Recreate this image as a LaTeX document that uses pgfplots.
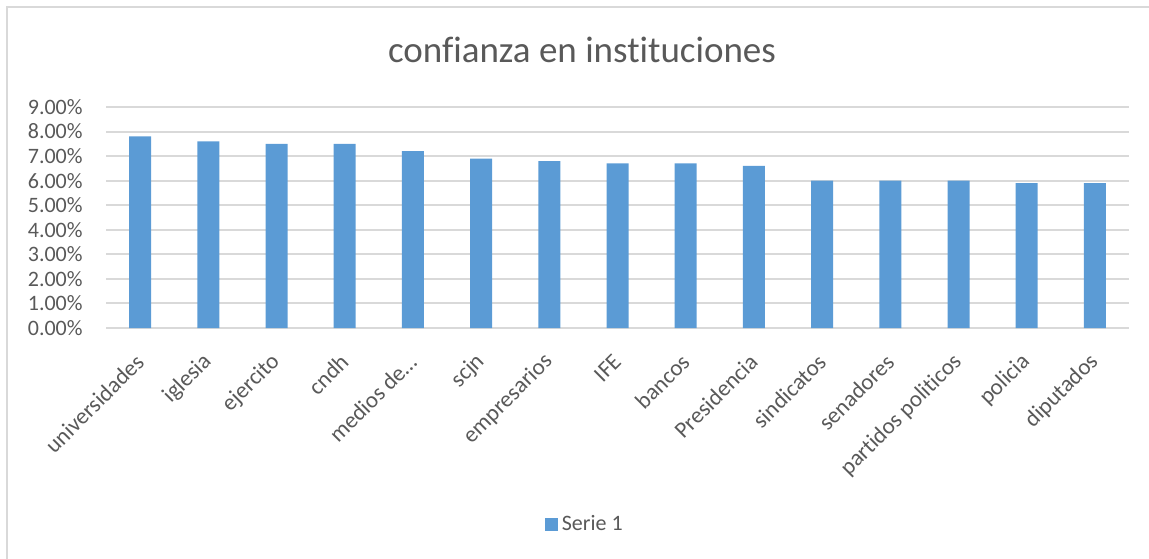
\documentclass[border=0pt]{standalone}
\usepackage{fontspec}
\setmainfont{Carlito}[Ligatures=NoCommon]
\usepackage{pgfplots}
\pgfplotsset{compat=1.18}
\definecolor{barblue}{HTML}{5B9BD5}
\definecolor{gridgray}{HTML}{D9D9D9}
\definecolor{textgray}{HTML}{595959}
\begin{document}
\begin{tikzpicture}
\useasboundingbox (0,0) rectangle (574.5pt,279pt);
\draw[gridgray, line width=1pt] (3.25pt,-10pt) -- (3.25pt,275.25pt) -- (600pt,275.25pt);
\node[font=\fontsize{18.5}{22}\selectfont, text=textgray] at (291pt,254pt) {confianza en instituciones};
\begin{axis}[
  at={(53pt,115pt)}, anchor=south west,
  scale only axis, width=511.5pt, height=110.5pt,
  xmin=-0.5, xmax=14.5, ymin=0, ymax=9,
  axis line style={draw=none},
  major tick length=0pt,
  ymajorgrids, grid style={gridgray, line width=1pt},
  ytick={0,1,2,3,4,5,6,7,8,9},
  yticklabels={0.00\%,1.00\%,2.00\%,3.00\%,4.00\%,5.00\%,6.00\%,7.00\%,8.00\%,9.00\%},
  yticklabel style={font=\fontsize{11}{13}\selectfont, text=textgray, inner sep=0pt, xshift=-11.5pt},
  xtick={0,...,14},
  xticklabels={universidades,iglesia,ejercito,cndh,medios de\dots,scjn,empresarios,IFE,bancos,Presidencia,sindicatos,senadores,partidos politicos,policia,diputados},
  xticklabel style={font=\fontsize{11.5}{13}\selectfont, text=textgray, inner sep=0pt, xshift=0pt, yshift=-15pt, rotate=45, anchor=east},
  ybar, bar width=11pt, bar shift=0pt,
  legend style={at={(0.469,-0.887)}, anchor=center, draw=none, fill=none, inner sep=0pt,
    font=\fontsize{11}{13}\selectfont, text=textgray},
  legend image code/.code={\fill[barblue] (0pt,-3.25pt) rectangle (6.5pt,3.25pt);},
]
\addplot[fill=barblue, draw=none] coordinates {
(0,7.8) (1,7.6) (2,7.5) (3,7.5) (4,7.2) (5,6.9) (6,6.8) (7,6.7)
(8,6.7) (9,6.6) (10,6.0) (11,6.0) (12,6.0) (13,5.9) (14,5.9)};
\addlegendentry{Serie 1}
\end{axis}
\end{tikzpicture}
\end{document}
